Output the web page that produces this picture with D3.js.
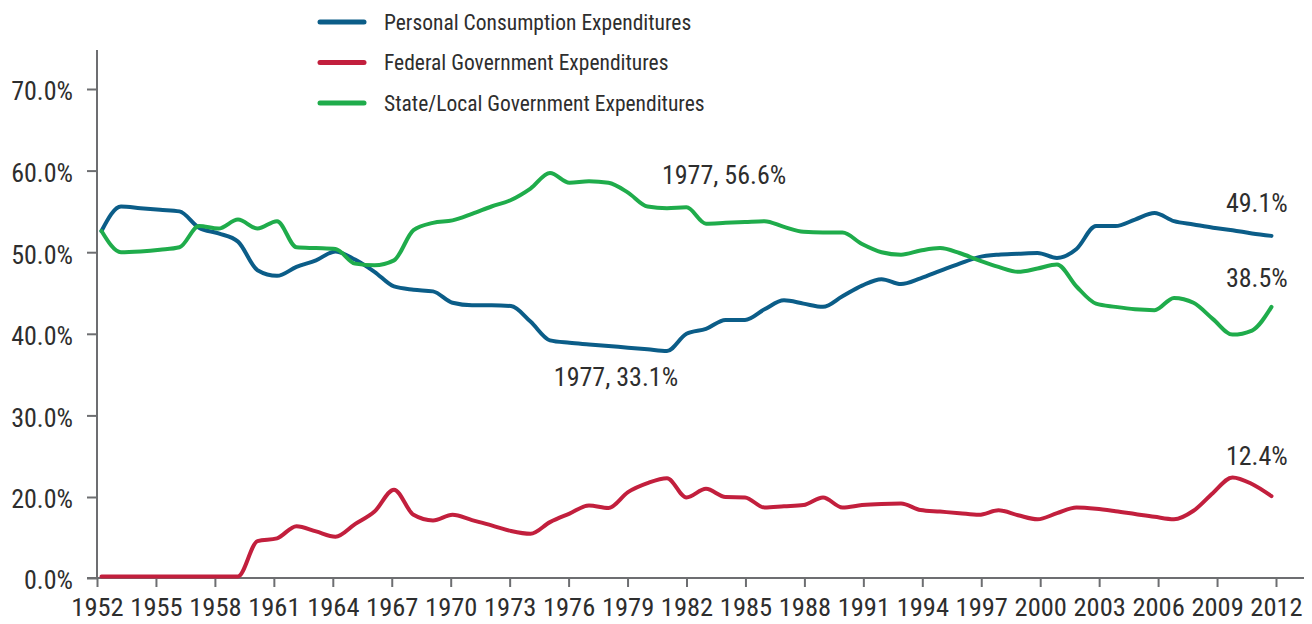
<!DOCTYPE html>
<html>
<head>
<meta charset="utf-8">
<script src="https://cdn.jsdelivr.net/npm/d3@7"></script>
<style>
  html, body { margin: 0; padding: 0; background: #fff; }
  svg text { font-family: "Liberation Sans Narrow", "Roboto Condensed", "DejaVu Sans Condensed", sans-serif; fill: #2e2e2e; font-weight: 400; }
</style>
</head>
<body>
<svg id="chart" width="1312" height="624"></svg>
<script>
const years = d3.range(1952, 2013);

const personal = [52.6,55.6,55.4,55.2,55.0,53.0,52.3,51.3,47.8,47.1,
  48.2,49.0,50.1,49.1,47.6,45.8,45.4,45.2,43.8,43.5,
  43.5,43.4,41.5,39.2,38.9,38.7,38.5,38.3,38.1,37.9,
  40.0,40.6,41.7,41.7,43.0,44.1,43.7,43.3,44.6,45.9,
  46.7,46.1,46.8,47.7,48.6,49.4,49.7,49.8,49.9,49.3,
  50.4,53.2,53.2,54.0,54.8,53.8,53.4,53.0,52.7,52.3,52.0];

const federal = [0.4,0.4,0.4,0.4,0.4,0.4,0.4,0.4,9.1,9.8,
  12.8,11.5,10.2,13.3,16.4,20.9,15.6,14.2,15.6,14.3,
  13.0,11.6,10.9,13.8,15.9,17.9,17.3,20.6,21.7,22.3,
  19.9,21.0,20.0,19.9,17.4,17.7,18.0,19.9,17.4,18.0,
  18.3,18.4,16.8,16.4,16.0,15.6,16.7,15.5,14.5,16.0,
  17.4,17.1,16.5,15.8,15.1,14.5,16.6,20.5,22.4,21.6,20.1];

const stateLocal = [52.6,50.0,50.1,50.3,50.6,53.2,52.9,54.0,52.9,53.8,
  50.6,50.5,50.4,48.6,48.4,49.0,52.7,53.6,53.9,54.7,
  55.6,56.4,57.8,59.7,58.5,58.7,58.5,57.3,55.6,55.4,
  55.5,53.5,53.6,53.7,53.8,53.1,52.5,52.4,52.4,51.0,
  50.0,49.7,50.2,50.5,49.9,49.0,48.2,47.6,48.0,48.5,
  45.8,43.7,43.3,43.0,42.9,44.4,43.8,41.8,39.9,40.4,43.3];

const seriesNames = ["Personal Consumption Expenditures", "Federal Government Expenditures", "State/Local Government Expenditures"];
const seriesColors = ["#0b5d88", "#c21f3d", "#1fac4b"];

const yTickValues = [0, 20, 30, 40, 50, 60, 70];
const yTickLabels = ["0.0%", "20.0%", "30.0%", "40.0%", "50.0%", "60.0%", "70.0%"];
const xTickValues = d3.range(1952, 2013, 3);

const annotations = [
  { text: "1977, 56.6%", year: 1980.75, value: 58.35 },
  { text: "1977, 33.1%", year: 1975.25, value: 33.6 },
  { text: "49.1%", year: 2009.45, value: 54.9 },
  { text: "38.5%", year: 2009.45, value: 45.7 },
  { text: "12.4%", year: 2009.45, value: 23.9 }
];

const svg = d3.select("#chart");

const x = d3.scaleLinear().domain([1952, 2012]).range([97, 1276]);
const xData = d3.scaleLinear().domain([1952, 2012]).range([x(1952) + 4.5, x(2012) - 4.5]);
const y = d3.scaleLinear().domain([0, 20, 70]).range([578, 497, 89]);

const axisColor = "#6d6e71";

// Y axis
const yAxis = svg.append("g").attr("transform", "translate(97,0)")
  .call(d3.axisLeft(y).tickValues(yTickValues).tickSize(10).tickPadding(14)
    .tickFormat((d, i) => yTickLabels[i]));
yAxis.select(".domain").attr("d", `M0,50V${y(0)}`);
yAxis.selectAll("path, line").attr("stroke", axisColor).attr("stroke-width", 2);
yAxis.selectAll("text").attr("font-size", 26).attr("dy", "0.42em");

// X axis
const xAxis = svg.append("g").attr("transform", `translate(0,${y(0)})`)
  .call(d3.axisBottom(x).tickValues(xTickValues).tickSize(9).tickPadding(10)
    .tickFormat(d3.format("d")));
xAxis.select(".domain").attr("d", `M87,0H1304`);
xAxis.selectAll("path, line").attr("stroke", axisColor).attr("stroke-width", 2);
xAxis.selectAll("text").attr("font-size", 26.5).attr("dy", "0.71em");

// Lines
const line = d3.line()
  .x((d, i) => xData(years[i]))
  .y(d => y(d))
  .curve(d3.curveMonotoneX);

[personal, federal, stateLocal].forEach((vals, k) => {
  svg.append("path")
    .datum(vals)
    .attr("fill", "none")
    .attr("stroke", seriesColors[k])
    .attr("stroke-width", 4)
    .attr("stroke-linejoin", "round")
    .attr("stroke-linecap", "round")
    .attr("d", line);
});

// Legend
const legend = svg.append("g").attr("transform", "translate(318,22)");
seriesNames.forEach((name, k) => {
  const g = legend.append("g").attr("transform", `translate(0,${k * 40.5})`);
  g.append("line").attr("x1", 2).attr("x2", 46).attr("y1", 0).attr("y2", 0)
    .attr("stroke", seriesColors[k]).attr("stroke-width", 5).attr("stroke-linecap", "round");
  g.append("text").attr("x", 66).attr("y", 0).attr("dy", "0.36em")
    .attr("font-size", 21.5).text(name);
});

// Annotations
svg.append("g").selectAll("text").data(annotations).join("text")
  .attr("x", d => x(d.year))
  .attr("y", d => y(d.value))
  .attr("text-anchor", "start")
  .attr("font-size", 26)
  .text(d => d.text);
</script>
</body>
</html>
